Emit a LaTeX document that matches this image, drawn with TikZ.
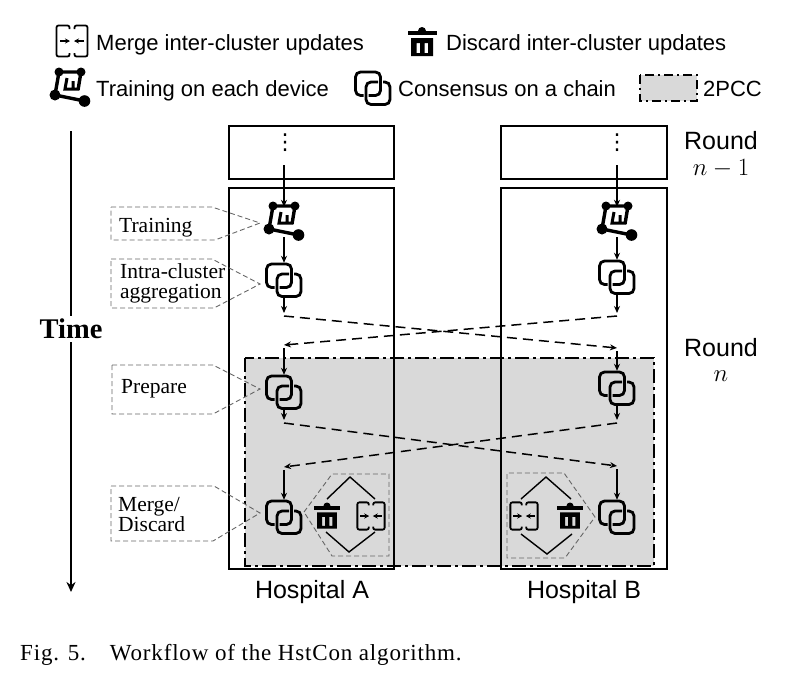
\documentclass[tikz,border=0pt]{standalone}
\usepackage{amsmath}
\usepackage{fontspec}
\setmainfont{Liberation Serif}
\setsansfont{Liberation Sans}
\newfontfamily\symfont{DejaVu Sans}
\usepackage{tikz}
\usetikzlibrary{arrows.meta}
\definecolor{pcc}{HTML}{D9D9D9}
\tikzset{
  iconbox/.style = {inner sep=0pt,minimum width=36pt,minimum height=34pt},
  trainbox/.style = {inner sep=0pt,minimum width=36pt,minimum height=30pt},
  hospital/.style = {draw,line width=1.5pt},
  twopcc/.style = {draw,line width=2.4pt,dash pattern=on 14pt off 4pt on 3pt off 4pt},
  flow/.style = {-{Stealth[length=7pt,width=6pt]},line width=1.2pt},
  jump/.style = {-{Stealth[length=7pt,width=6pt]},line width=1.5pt,dash pattern=on 10pt off 6pt},
  callout/.style = {draw=black!60,line width=0.9pt,dash pattern=on 5pt off 3pt},
  side/.style = {line width=1.4pt},
  legend/.style = {font=\sffamily\fontsize{22}{26}\selectfont,anchor=base west,inner sep=0pt},
  note/.style = {font=\fontsize{21.5}{20}\selectfont,anchor=base west,inner sep=0pt,align=left},
  tag/.style = {font=\sffamily\fontsize{25}{28}\selectfont,anchor=base,inner sep=0pt},
  chainicon/.pic = {
    \draw[line width=2.8pt,rounded corners=5pt] (-4.5,7.5) -- (7.5,7.5) -- (7.5,-16) -- (-17.5,-16) -- (-17.5,7.5) -- (-9.5,7.5);
    \draw[line width=2.8pt,rounded corners=5pt] (5,-6) -- (-7,-6) -- (-7,16.5) -- (17,16.5) -- (17,-6) -- (10,-6);
  },
  trainicon/.pic = {
    \draw[line width=3.4pt] (8,2) -- (11,-16) -- (-11,-16) -- (-15,7) -- (14.5,13);
    \draw[line width=3pt] (-3,-10) -- (-5,1) -- (9,1) (3,-7) -- (3,1);
    \fill (-11,-16) circle (4.5) (11,-16) circle (4.5) (-15,7) circle (5.5) (14.5,13) circle (5.8);
  },
  mergeicon/.pic = {
    \draw[line width=1.8pt,rounded corners=2pt] (-2.5,-12) -- (-2.5,-15.5) -- (-15.5,-15.5) -- (-15.5,15.5) -- (-2.5,15.5) -- (-2.5,12);
    \draw[line width=1.8pt,rounded corners=2pt] (2.5,-12) -- (2.5,-15.5) -- (15.5,-15.5) -- (15.5,15.5) -- (2.5,15.5) -- (2.5,12);
    \draw[-{Stealth[length=5pt,width=5pt]},line width=1.4pt] (-12,0) -- (-2,0);
    \draw[-{Stealth[length=5pt,width=5pt]},line width=1.4pt] (12,0) -- (2,0);
  },
  trashicon/.pic = {
    \fill (-14.5,-11) rectangle (14.5,-7);
    \fill (0,-11) circle (4);
    \fill[even odd rule] (-11,-4) rectangle (11,14) (-5.5,1) rectangle (-2,11) (2.5,1) rectangle (6,11);
  },
}
\begin{document}
\begin{tikzpicture}[x=1pt,y=-1pt]
  \useasboundingbox (0,0) rectangle (806,683);
  % legend
  \path (72,41) pic {mergeicon}
    (96,50) node[legend] (lmerge) {Merge inter-cluster updates}
    (422,42) pic {trashicon}
    (446,50) node[legend] (ldiscard) {Discard inter-cluster updates}
    (70,88) pic {trainicon}
    (96,96) node[legend] (ltrain) {Training on each device}
    (373,88) pic {chainicon}
    (398,96) node[legend] (lchain) {Consensus on a chain}
    (703,96) node[legend] (lpcc) {2PCC};
  \fill[pcc] (640,75) rectangle (697,101);
  \draw[line width=1.6pt,dash pattern=on 9pt off 4pt on 2pt off 4pt] (640,75) rectangle (697,101);
  % 2PCC area and hospitals
  \fill[pcc] (245,358) rectangle (654,566);
  \draw[hospital] (229,126) rectangle (394,179);
  \draw[hospital] (229,188) rectangle (394,569);
  \draw[hospital] (501,126) rectangle (667,179);
  \draw[hospital] (501,188) rectangle (667,569);
  \draw[twopcc] (245,358) rectangle (654,566);
  % time axis
  \path (71,131) coordinate (tstart) (71,592) coordinate (tend);
  \draw[-{Stealth[length=10pt,width=9pt]},line width=1.8pt] (tstart) -- (tend);
  \path (71,329) node[fill=white,inner sep=3pt,font=\bfseries\fontsize{28.5}{30}\selectfont] (time) {Time};
  % nodes
  \path (285,143) node[inner sep=0pt,font=\symfont\fontsize{22}{22}\selectfont] (dotsA) {⋮}
    (617,143) node[inner sep=0pt,font=\symfont\fontsize{22}{22}\selectfont] (dotsB) {⋮}
    (284,222) node[trainbox] (trainA) {} pic {trainicon}
    (617,222) node[trainbox] (trainB) {} pic {trainicon}
    (284,280) node[iconbox] (chainA) {} pic {chainicon}
    (617,277) node[iconbox] (chainB) {} pic {chainicon}
    (284,392) node[iconbox] (prepA) {} pic {chainicon}
    (617,388) node[iconbox] (prepB) {} pic {chainicon}
    (284,517) node[iconbox] (mergeA) {} pic {chainicon}
    (617,517) node[iconbox] (mergeB) {} pic {chainicon};
  \path (284,165) coordinate (a0) (617,165) coordinate (b0)
    (284,316) coordinate (a1) (617,316) coordinate (b1)
    (284,345) coordinate (a2) (617,348) coordinate (b2)
    (284,423) coordinate (a3) (617,423) coordinate (b3)
    (284,467) coordinate (a4) (617,466) coordinate (b4);
  % connectors
  \path[flow]
    (a0) edge (trainA.north)
    (b0) edge (trainB.north)
    (trainA) edge (chainA)
    (trainB) edge (chainB)
    (chainA) edge[shorten >=3pt] (a1)
    (chainB) edge[shorten >=3pt] (b1)
    (a2) edge[shorten <=3pt] (prepA)
    (b2) edge[shorten <=3pt] (prepB)
    (prepA) edge[shorten >=3pt] (a3)
    (prepB) edge[shorten >=3pt] (b3)
    (a4) edge[shorten <=3pt] (mergeA)
    (b4) edge[shorten <=3pt] (mergeB);
  \path[jump]
    (a1) edge (b2)
    (b1) edge (a2)
    (a3) edge (b4)
    (b3) edge (a4);
  % callouts
  \draw[callout] (111,207) -- (212,207) -- (260,223) -- (215,240) -- (111,240) -- cycle;
  \draw[callout] (111,259) -- (212,259) -- (260,284) -- (214,308) -- (111,308) -- cycle;
  \draw[callout] (112,365) -- (213,365) -- (260,389) -- (213,414) -- (112,414) -- cycle;
  \draw[callout] (111,486) -- (214,486) -- (260,513) -- (213,541) -- (111,541) -- cycle;
  \draw[callout] (304,512) -- (332,474) -- (389,474) -- (389,556) -- (332,556) -- cycle;
  \draw[callout] (595,517) -- (564,473) -- (507,473) -- (507,558) -- (565,558) -- cycle;
  \path (119,232) node[note] (ntrain) {Training}
    (120,298) node[note] (nintra) {Intra-cluster\\aggregation}
    (121,393) node[note] (nprep) {Prepare}
    (118,531) node[note] (nmerge) {Merge/\\Discard};
  % merge or discard
  \path (327,516) node[inner sep=0pt,minimum size=26pt] (dA) {} pic[scale=0.9] {trashicon}
    (371,516) node[inner sep=0pt,minimum size=28pt] (gA) {} pic[scale=0.88] {mergeicon}
    (524,516) node[inner sep=0pt,minimum size=28pt] (gB) {} pic[scale=0.88] {mergeicon}
    (570,516) node[inner sep=0pt,minimum size=26pt] (dB) {} pic[scale=0.9] {trashicon};
  \path (350,477) coordinate (ua) (349,552) coordinate (la)
    (546,477) coordinate (ub) (547,554) coordinate (lb);
  \draw[side] (327,499) -- (ua) -- (375,499);
  \draw[side] (326,532) -- (la) -- (375,532);
  \draw[side] (521,499) -- (ub) -- (571,499);
  \draw[side] (521,534) -- (lb) -- (572,534);
  % round and hospital labels
  \path (721,149) node[tag] (r1) {Round}
    (721,175) node[tag,font=\fontsize{27}{28}\selectfont] (r1n) {$n-1$}
    (721,356) node[tag] (r2) {Round}
    (721,381) node[tag,font=\fontsize{27}{28}\selectfont] (r2n) {$n$}
    (312,598) node[tag] (ha) {Hospital A}
    (584,598) node[tag] (hb) {Hospital B};
  \path (20,660) node[anchor=base west,inner sep=0pt,font=\fontsize{23}{26}\selectfont] (cap) {\addfontfeatures{LetterSpace=3.6}Fig. 5.\hspace{24pt}Workflow of the HstCon algorithm.};
\end{tikzpicture}
\end{document}
